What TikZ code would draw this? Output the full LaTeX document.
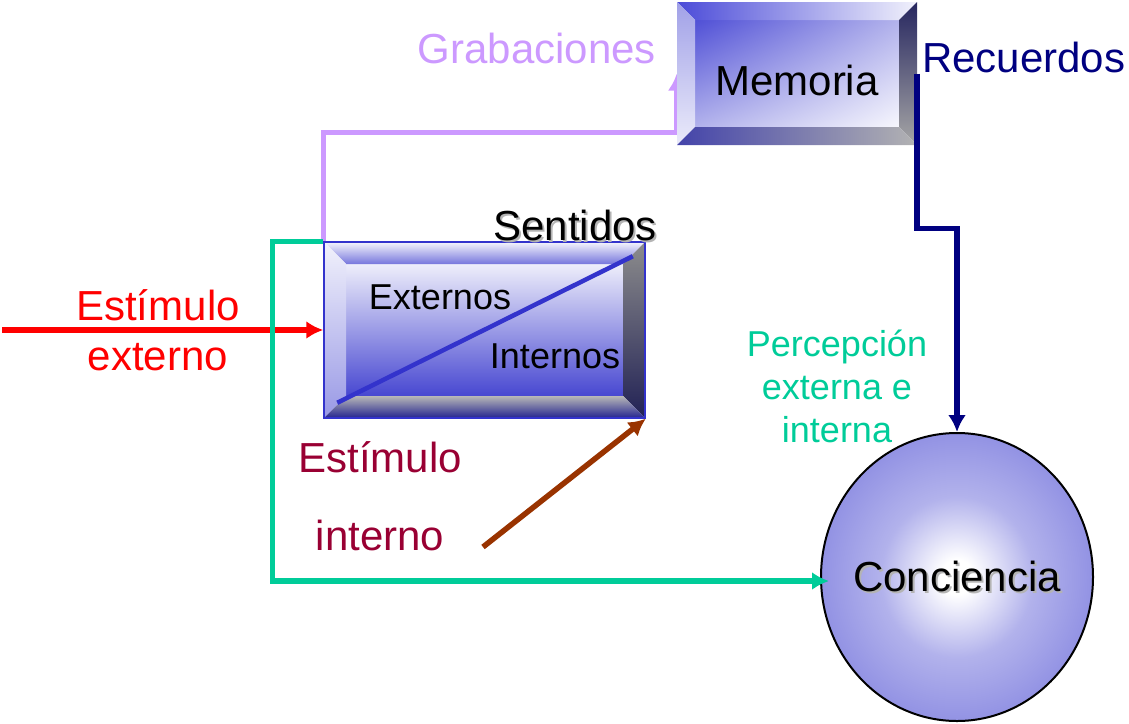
\documentclass[tikz,border=0pt]{standalone}
\usepackage{fontspec}
\setmainfont{Liberation Sans}
\usepackage{tikz}
\usetikzlibrary{arrows.meta,calc,positioning,shapes.geometric,backgrounds,shadings}

\definecolor{grabcol}{RGB}{204,153,255}
\definecolor{reccol}{RGB}{0,0,128}
\definecolor{extcol}{RGB}{255,0,0}
\definecolor{percol}{RGB}{0,204,153}
\definecolor{intcol}{RGB}{153,0,51}
\definecolor{intarrow}{RGB}{153,51,0}
\definecolor{sentblue}{RGB}{51,51,204}
\definecolor{cblue}{RGB}{84,84,212}
\definecolor{shgray}{RGB}{180,180,180}
\pgfdeclareradialshading{concshade}{\pgfpoint{0bp}{0bp}}{color(0bp)=(white); color(3bp)=(white); color(14bp)=(cblue!45!white); color(30bp)=(cblue!72!white); color(50bp)=(cblue)}

% text with a light grey drop shadow
\newcommand{\shtext}[1]{\rlap{\hspace{2pt}\raisebox{-2pt}{\color{shgray}#1}}#1}

% bevels of a framed box: #1 width, #2 top, #3 left, #4 right, #5 bottom, #6 face
\newcommand{\bevelfaces}[6]{%
  \coordinate (bnw) at (path picture bounding box.north west);
  \coordinate (bne) at (path picture bounding box.north east);
  \coordinate (bsw) at (path picture bounding box.south west);
  \coordinate (bse) at (path picture bounding box.south east);
  \shade[#6] ($(bnw)+(#1,#1)$) rectangle ($(bse)+(-#1,-#1)$);
  \shade[#2] (bnw) -- (bne) -- ($(bne)+(-#1,#1)$) -- ($(bnw)+(#1,#1)$) -- cycle;
  \shade[#3] (bnw) -- (bsw) -- ($(bsw)+(#1,-#1)$) -- ($(bnw)+(#1,#1)$) -- cycle;
  \shade[#4] (bne) -- (bse) -- ($(bse)+(-#1,-#1)$) -- ($(bne)+(-#1,#1)$) -- cycle;
  \shade[#5] (bsw) -- (bse) -- ($(bse)+(-#1,-#1)$) -- ($(bsw)+(#1,-#1)$) -- cycle;
}

\begin{document}
\begin{tikzpicture}[x=1pt,y=-1pt]
	\tikzstyle{big}=[font=\fontsize{42}{50}\selectfont,inner sep=0pt]
	\tikzstyle{mid}=[font=\fontsize{36}{43}\selectfont,inner sep=0pt]
	\tikzstyle{membox}=[minimum width=240pt,minimum height=143pt,inner sep=0pt,
		path picture={\bevelfaces{18}{left color=cblue!90!blue,right color=white!92!cblue}%
			{top color=cblue!55!white,bottom color=cblue!12!white}%
			{top color=cblue!45!black,bottom color=black!35}%
			{left color=cblue!80!black,right color=black!30}%
			{upper left=cblue!95!blue,lower right=white!95!cblue,upper right=cblue!45!white,lower left=cblue!45!white}}]
	\tikzstyle{sentbox}=[draw=sentblue,line width=1.5pt,minimum width=321pt,minimum height=176pt,inner sep=0pt,
		path picture={\bevelfaces{22}{top color=white!94!cblue,bottom color=cblue!80!white}%
			{top color=white!92!cblue,bottom color=cblue!60!white}%
			{top color=black!45,bottom color=cblue!40!black}%
			{top color=black!28,bottom color=sentblue!70!black}%
			{top color=white!90!cblue,bottom color=sentblue!90!white}}]
	\tikzstyle{concnode}=[ellipse,draw=black,line width=2pt,minimum width=272pt,minimum height=288pt,
		inner sep=0pt,shading=concshade]
	\tikzstyle{conn}=[draw,line width=5.5pt,-{Latex[length=17pt,width=18pt]}]
	\tikzstyle{lgrab}=[conn,grabcol]
	\tikzstyle{lrec}=[conn,reccol]
	\tikzstyle{lext}=[conn,extcol]
	\tikzstyle{lper}=[conn,percol]
	\tikzstyle{lint}=[conn,intarrow]
	\useasboundingbox (0,0) rectangle (1129,723);

	%% Boxes
	\node [sentbox] (sent) at (484.5,330) {};
	\draw [sentblue,line width=4.5pt] ($(sent.south west)+(14,-16)$) -- ($(sent.north east)+(-13,15)$);
	\node [membox] (mem) at (797,73.5) {\fontsize{42}{50}\selectfont\raisebox{-7pt}[\height][\depth]{Memoria}};
	\node [concnode] (conc) at (957,577) {\fontsize{42}{50}\selectfont\makebox[0pt]{\shtext{Conciencia}}};
	\begin{scope}[on background layer]
	    \draw [lgrab] (sent.north west) -- ++(0,-109) -| (mem.west);
	\end{scope}

	%% Labels
	\node [big,grabcol,anchor=east] (grab) at (656,48) {Grabaciones};
	\node [big,reccol,anchor=west] (rec) at (922,57) {Recuerdos};
	\node [big] (sentlbl) at (575,226) {\shtext{Sentidos}};
	\node [mid] (ext) at (440,297) {Externos};
	\node [mid] (int) at (555,356) {Internos};
	\node [big,extcol,align=center] (estext) at (158,330) {Estímulo\\externo};
	\node [big,intcol,align=center,font=\fontsize{42}{78}\selectfont] (estint) at (380,496) {Estímulo\\interno};
	\node [mid,percol,align=center] (perc) at (837,386) {Percepción\\externa e\\interna};

	%% Connectors
	\coordinate (extin) at (2,330);
	\coordinate (intin) at (483,547);
	\draw [lrec] (mem.east) -- ++(0,155) -| (conc.north);
	\draw [lext] (extin) -- (sent.west);
	\draw [lper] (sent.north west) -- ++(-51,0) |- ($(conc.west)+(9,4)$);
	\draw [lint] (intin) -- (sent.south east);
\end{tikzpicture}
\end{document}
